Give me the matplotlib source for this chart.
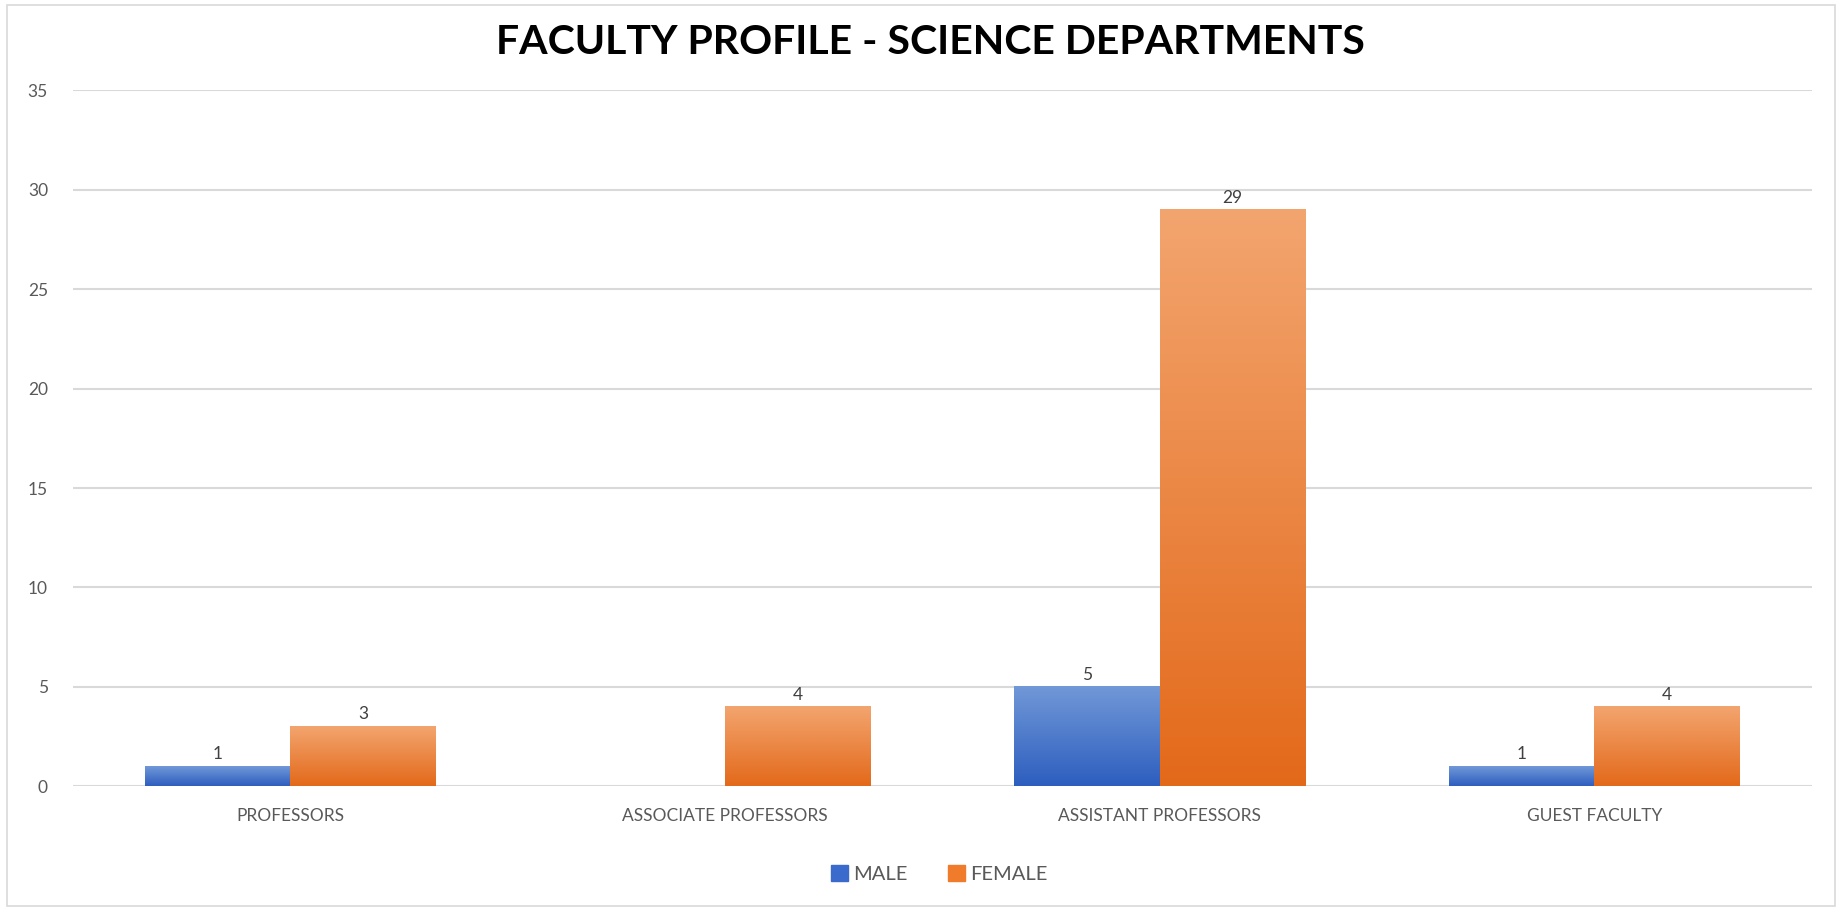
import matplotlib.pyplot as plt
import numpy as np
from matplotlib.colors import LinearSegmentedColormap
from matplotlib.patches import Rectangle

plt.rcParams['font.family'] = ['Lato', 'DejaVu Sans']

categories = ["PROFESSORS", "ASSOCIATE PROFESSORS", "ASSISTANT PROFESSORS", "GUEST FACULTY"]
series_names = ["MALE", "FEMALE"]
male = [1, 0, 5, 1]
female = [3, 4, 29, 4]
yticks = [0, 5, 10, 15, 20, 25, 30, 35]

# gradient per bar: light at top, dark at bottom
blue_cmap = LinearSegmentedColormap.from_list("blue", ["#2d5ebf", "#7198d7"])
orange_cmap = LinearSegmentedColormap.from_list("orange", ["#e3691a", "#f3a56f"])
legend_colors = ["#3a6acb", "#f07b2a"]

fig = plt.figure(figsize=(18.42, 9.10), dpi=100)
ax = fig.add_axes([0.0396, 0.136, 0.944, 0.7646])

# light frame round the whole chart
fig.patches.append(Rectangle((0.004, 0.004), 0.992, 0.99, transform=fig.transFigure,
                             fill=False, edgecolor="#d9d9d9", linewidth=1.2))

x = np.arange(len(categories))
width = 0.335

gradient = np.linspace(0, 1, 256).reshape(-1, 1)

for vals, offset, cmap, color, name in [
    (male, -width / 2, blue_cmap, legend_colors[0], series_names[0]),
    (female, width / 2, orange_cmap, legend_colors[1], series_names[1]),
]:
    bars = ax.bar(x + offset, vals, width, color="none", edgecolor="none", label=name)
    for rect, v in zip(bars, vals):
        if v <= 0:
            continue
        x0, y0 = rect.get_x(), rect.get_y()
        w, h = rect.get_width(), rect.get_height()
        ax.imshow(gradient, cmap=cmap, aspect="auto", origin="lower",
                  extent=[x0, x0 + w, y0, y0 + h], zorder=3, interpolation="bicubic")
        ax.annotate(str(v), (x0 + w / 2, y0 + h), xytext=(0, 3), textcoords="offset points",
                    ha="center", va="bottom", fontsize=12.5, color="#404040", zorder=4)

ax.set_xlim(-0.5, len(categories) - 0.5)
ax.set_ylim(0, 35)
ax.set_yticks(yticks)
ax.set_xticks(x)
ax.set_xticklabels(categories)
ax.yaxis.grid(True, color="#d9d9d9", linewidth=1.5)
ax.set_axisbelow(True)
for s in ax.spines.values():
    s.set_visible(False)
ax.tick_params(axis="both", length=0, labelsize=12.5, labelcolor="#595959")
ax.tick_params(axis="y", pad=18)
ax.tick_params(axis="x", pad=16)

ax.set_title("FACULTY PROFILE - SCIENCE DEPARTMENTS", fontsize=29.5, fontweight="bold",
             color="black", pad=26, x=0.493)

handles = [Rectangle((0, 0), 1, 1, color=c) for c in legend_colors]
fig.legend(handles, series_names, loc="center", bbox_to_anchor=(0.51, 0.04), ncol=2,
           frameon=False, fontsize=14.5, labelcolor="#595959", handlelength=0.85,
           handleheight=0.85, handletextpad=0.25, columnspacing=2.0)

fig.savefig("out.png", dpi=100, facecolor="white")
